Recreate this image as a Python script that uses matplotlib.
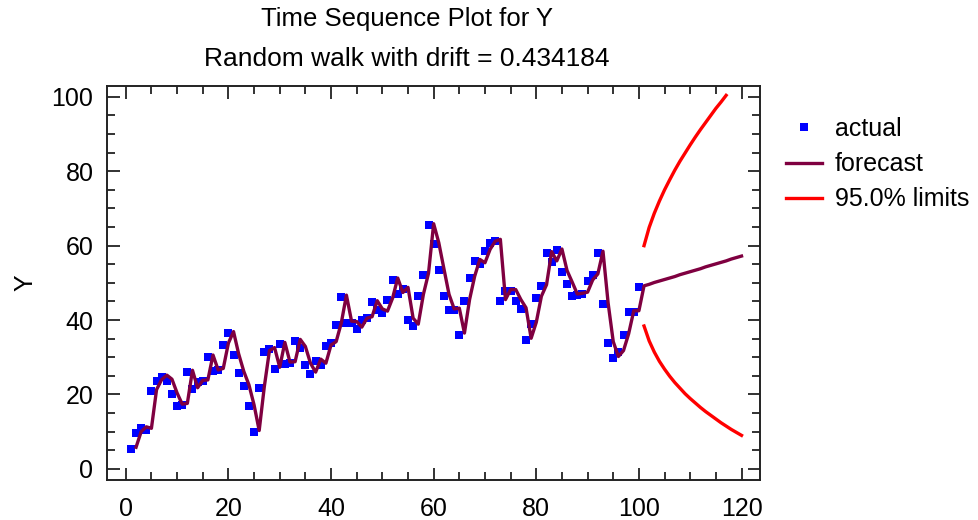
import numpy as np
import matplotlib
matplotlib.use('Agg')
import matplotlib.pyplot as plt
from matplotlib.ticker import MultipleLocator

plt.rcParams['font.family'] = ['Liberation Sans', 'DejaVu Sans']
fs = 18

# observed series, t = 1..100
t_actual = np.arange(1, 101)
actual = [5.4, 9.6, 10.9, 10.5, 20.9, 23.6, 24.8, 23.7, 20.0, 17.0,
          17.2, 26.1, 21.4, 23.4, 23.5, 30.2, 26.2, 26.6, 33.4, 36.5,
          30.5, 25.8, 22.2, 16.8, 9.9, 21.7, 31.4, 32.2, 26.9, 33.6,
          28.3, 28.4, 34.4, 32.5, 28.0, 25.6, 29.1, 28.0, 32.9, 33.8,
          38.8, 46.3, 39.3, 39.2, 37.7, 40.1, 40.5, 44.8, 42.6, 42.0,
          45.5, 50.9, 47.0, 48.4, 40.1, 38.5, 46.5, 52.2, 65.5, 60.4,
          53.4, 46.5, 42.6, 42.8, 36.1, 45.1, 51.4, 55.9, 55.0, 58.6,
          60.8, 61.3, 45.1, 47.8, 47.8, 45.1, 42.9, 34.7, 39.0, 46.0,
          49.1, 58.0, 55.5, 58.7, 52.9, 49.8, 46.6, 46.8, 47.1, 50.4,
          52.0, 58.1, 44.2, 33.8, 29.8, 31.4, 35.9, 42.1, 42.1, 48.8]

# one-step forecasts t = 2..100, then forecasts t = 101..120
t_forecast = np.arange(2, 121)
forecast = [5.8, 10.0, 11.3, 10.9, 21.3, 24.0, 25.2, 24.1, 20.4,
            17.4, 17.6, 26.5, 21.8, 23.8, 23.9, 30.6, 26.6, 27.0, 33.8,
            36.9, 30.9, 26.2, 22.6, 17.2, 10.3, 22.1, 31.8, 32.6, 27.3,
            34.0, 28.7, 28.8, 34.8, 32.9, 28.4, 26.0, 29.5, 28.4, 33.3,
            34.2, 39.2, 46.7, 39.7, 39.6, 38.1, 40.5, 40.9, 45.2, 43.0,
            42.4, 45.9, 51.3, 47.4, 48.8, 40.5, 38.9, 46.9, 52.6, 65.9,
            60.8, 53.8, 46.9, 43.0, 43.2, 36.5, 45.5, 51.8, 56.3, 55.4,
            59.0, 61.2, 61.7, 45.5, 48.2, 48.2, 45.5, 43.3, 35.1, 39.4,
            46.4, 49.5, 58.4, 55.9, 59.1, 53.3, 50.2, 47.0, 47.2, 47.5,
            50.8, 52.4, 58.5, 44.6, 34.2, 30.2, 31.8, 36.3, 42.5, 42.5,
            49.2, 49.6, 50.1, 50.5, 50.9, 51.3, 51.7, 52.2, 52.6, 53.0,
            53.4, 53.8, 54.3, 54.7, 55.1, 55.5, 55.9, 56.4, 56.8, 57.2]

# 95% limits (upper one leaves the chart after t = 117)
t_upper = np.arange(101, 118)
upper = [60.0, 64.9, 68.7, 72.0, 75.0, 77.7, 80.3, 82.7, 84.9, 87.1,
         89.2, 91.2, 93.1, 95.0, 96.9, 98.6, 100.4]
t_lower = np.arange(101, 121)
lower = [38.4, 34.4, 31.4, 28.9, 26.8, 24.9, 23.2, 21.7, 20.2, 18.9,
         17.7, 16.5, 15.4, 14.4, 13.4, 12.4, 11.5, 10.6, 9.8, 9.0]

fig = plt.figure(figsize=(9.79, 5.20), dpi=100)
ax = fig.add_axes([0.1096, 0.0769, 0.6667, 0.7583])

ax.plot(t_actual, actual, 's', color='#0000ff', markersize=5.5,
        markeredgewidth=0, label='actual', zorder=2)
ax.plot(t_forecast, forecast, '-', color='#7f0040', linewidth=2.4,
        label='forecast', zorder=3)
ax.plot(t_upper, upper, '-', color='#ff0000', linewidth=2.4,
        label='95.0% limits', zorder=3)
ax.plot(t_lower, lower, '-', color='#ff0000', linewidth=2.4, zorder=3)

ax.set_xlim(-3.6, 123.6)
ax.set_ylim(-3.0, 103.0)
ax.xaxis.set_major_locator(MultipleLocator(20))
ax.xaxis.set_minor_locator(MultipleLocator(5))
ax.yaxis.set_major_locator(MultipleLocator(20))
ax.yaxis.set_minor_locator(MultipleLocator(5))
ax.tick_params(which='both', direction='in', top=True, right=True,
               width=1.3, color='#222222')
ax.tick_params(which='major', length=9, labelsize=fs, pad=10)
ax.tick_params(axis='x', which='major', pad=12)
ax.tick_params(which='minor', length=5.5)
for s in ax.spines.values():
    s.set_linewidth(1.4)
    s.set_color('#222222')

ax.set_ylabel('Y', fontsize=fs, labelpad=10)

fig.text(0.4157, 0.963, 'Time Sequence Plot for Y', fontsize=fs + 0.5,
         ha='center', va='center')
fig.text(0.4157, 0.886, 'Random walk with drift = 0.434184', fontsize=fs + 1,
         ha='center', va='center')

leg = ax.legend(loc='upper left', bbox_to_anchor=(0.803, 0.775),
                bbox_transform=fig.transFigure, frameon=False,
                fontsize=fs, handlelength=1.45, handletextpad=0.5,
                labelspacing=0.45, borderpad=0, borderaxespad=0,
                markerscale=1.0)

fig.savefig('out.png', dpi=100)
